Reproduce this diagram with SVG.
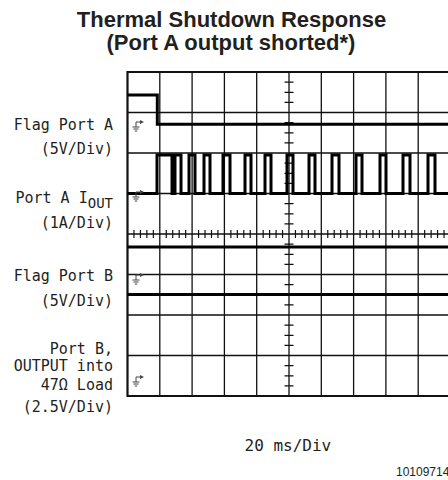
<svg xmlns="http://www.w3.org/2000/svg" width="448" height="480" viewBox="0 0 448 480">
<style>
.title{font-family:"Liberation Sans",Arial,sans-serif;font-weight:bold;font-size:22px;fill:#231f20;text-anchor:middle}
.lbl{font-family:"DejaVu Sans Mono","Liberation Mono",monospace;font-size:15px;fill:#231f20;text-anchor:end}
.grid{stroke:#111;stroke-width:1.3;fill:none}
.border{stroke:#111;stroke-width:2.2;fill:none}
.tick{stroke:#111;stroke-width:1.2;fill:none}
.trace{stroke:#000;stroke-width:3;fill:none;stroke-linejoin:miter}
.gnd{stroke:#444;stroke-width:1;fill:none}
</style>
<defs>
<g id="gndsym">
<path class="gnd" d="M0,0 H5 M0,0 V5 M-3.5,5 H3.5 M-2.5,7 H2.5 M-1.2,9 H1.2"/>
<polygon points="4,-2 8,0 4,2" fill="#444"/>
</g>
</defs>
<rect width="448" height="480" fill="#fff"/>
<g id="title">
<text class="title" x="231.5" y="27">Thermal Shutdown Response</text>
<text class="title" x="231" y="50">(Port A output shorted*)</text>
</g>
<g id="grid">
<path class="grid" d="M159.8,72 V396 M192.1,72 V396 M224.4,72 V396 M256.7,72 V396 M289,72 V396 M321.3,72 V396 M353.6,72 V396 M385.9,72 V396 M418.2,72 V396 M127.5,112.5 H448 M127.5,153 H448 M127.5,193.5 H448 M127.5,234 H448 M127.5,274.5 H448 M127.5,315 H448 M127.5,355.5 H448"/>
<path class="border" d="M448,72 H127.5 V396 H448"/>
<path class="tick" d="M133.96,230V238M140.42,230V238M146.88,230V238M153.34,230V238M166.26,230V238M172.72,230V238M179.18,230V238M185.64,230V238M198.56,230V238M205.02,230V238M211.48,230V238M217.94,230V238M230.86,230V238M237.32,230V238M243.78,230V238M250.24,230V238M263.16,230V238M269.62,230V238M276.08,230V238M282.54,230V238M295.46,230V238M301.92,230V238M308.38,230V238M314.84,230V238M327.76,230V238M334.22,230V238M340.68,230V238M347.14,230V238M360.06,230V238M366.52,230V238M372.98,230V238M379.44,230V238M392.36,230V238M398.82,230V238M405.28,230V238M411.74,230V238M424.66,230V238M431.12,230V238M437.58,230V238M444.04,230V238"/>
<path class="tick" d="M284.5,82.1H293.5M284.5,92.3H293.5M284.5,102.4H293.5M284.5,122.6H293.5M284.5,132.8H293.5M284.5,142.9H293.5M284.5,163.1H293.5M284.5,173.3H293.5M284.5,183.4H293.5M284.5,203.6H293.5M284.5,213.8H293.5M284.5,223.9H293.5M284.5,244.1H293.5M284.5,254.3H293.5M284.5,264.4H293.5M284.5,284.6H293.5M284.5,294.8H293.5M284.5,304.9H293.5M284.5,325.1H293.5M284.5,335.3H293.5M284.5,345.4H293.5M284.5,365.6H293.5M284.5,375.8H293.5M284.5,385.9H293.5"/>
</g>
<g id="traces">
<path id="flagA" class="trace" d="M127.5,95 H157.3 V124.3 H448"/>
<path id="ioutA" class="trace" d="M127.5,193.5 H157 V155 H172 V193.5 H175 V155 H181 V193.5 H189 V155 H195 V193.5 H204 V155 H210 V193.5 H223 V155 H230 V193.5 H245 V155 H251 V193.5 H265 V155 H271 V193.5 H287 V155 H293 V193.5 H309 V155 H315 V193.5 H332 V155 H339 V193.5 H356 V155 H362 V193.5 H380 V155 H386 V193.5 H403 V155 H410 V193.5 H428 V155 H435 V193.5 H448"/>
<path id="trace3" class="trace" d="M127.5,247 H448"/>
<path id="flagB" class="trace" d="M127.5,294.5 H448"/>
</g>
<g id="grounds">
<use href="#gndsym" x="136" y="122"/>
<use href="#gndsym" x="136" y="192"/>
<use href="#gndsym" x="136" y="275"/>
<use href="#gndsym" x="136" y="377"/>
</g>
<g id="labels">
<text class="lbl" x="113" y="130">Flag Port A</text>
<text class="lbl" x="113" y="154">(5V/Div)</text>
<text class="lbl" x="113" y="203">Port A I<tspan font-size="14" dy="5">OUT</tspan></text>
<text class="lbl" x="113" y="228">(1A/Div)</text>
<text class="lbl" x="113" y="281">Flag Port B</text>
<text class="lbl" x="113" y="306">(5V/Div)</text>
<text class="lbl" x="113" y="354">Port B,</text>
<text class="lbl" x="113" y="371">OUTPUT into</text>
<text class="lbl" x="113" y="390">47Ω Load</text>
<text class="lbl" x="113" y="412">(2.5V/Div)</text>
<text class="lbl" x="244.5" y="451" style="text-anchor:start;font-size:16px">20 ms/Div</text>
<text x="396" y="476" style="font-family:'Liberation Sans',Arial,sans-serif;font-size:12px;fill:#231f20">10109714</text>
</g>
</svg>
